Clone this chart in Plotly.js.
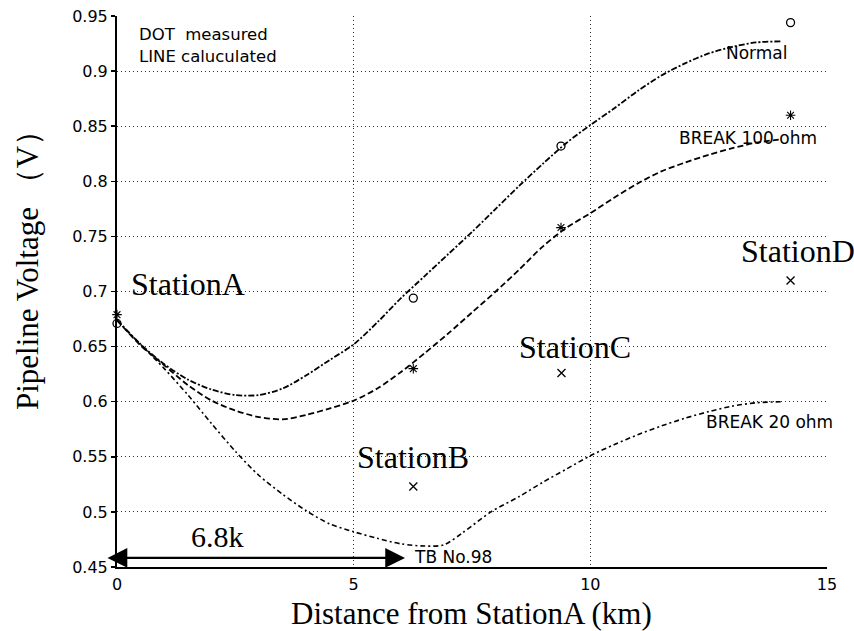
<!DOCTYPE html>
<html>
<head>
<meta charset="utf-8">
<script src="https://cdn.plot.ly/plotly-3.0.1.min.js"></script>
<style>html,body{margin:0;padding:0;background:#fff;}#chart{width:854px;height:631px;}</style>
</head>
<body>
<div id="chart"></div>
<script>
// ---- data ----
const xTickVals = [0, 5, 10, 15];
const xTickText = ['0', '5', '10', '15'];
const yTickVals = [0.45, 0.5, 0.55, 0.6, 0.65, 0.7, 0.75, 0.8, 0.85, 0.9, 0.95];
const yTickText = ['0.45', '0.5', '0.55', '0.6', '0.65', '0.7', '0.75', '0.8', '0.85', '0.9', '0.95'];

// calculated lines
const normalX = [0, 0.5, 1, 1.5, 2, 2.5, 3, 3.5, 4, 4.5, 5, 5.5, 6, 6.5, 7, 7.5, 8, 8.5, 9, 9.5, 10, 10.5, 11, 11.5, 12, 12.5, 13, 13.5, 14.05];
const normalY = [0.674, 0.652, 0.634, 0.620, 0.611, 0.606, 0.606, 0.612, 0.624, 0.638, 0.652, 0.672, 0.694, 0.714, 0.734, 0.754, 0.775, 0.796, 0.816, 0.835, 0.851, 0.866, 0.882, 0.896, 0.907, 0.916, 0.922, 0.926, 0.927];

const break100X = [0, 0.5, 1, 1.5, 2, 2.5, 3, 3.5, 4, 4.5, 5, 5.5, 6, 6.5, 7, 7.5, 8, 8.5, 9, 9.5, 10, 10.5, 11, 11.5, 12, 12.5, 13, 13.5, 14.0];
const break100Y = [0.674, 0.651, 0.633, 0.615, 0.601, 0.592, 0.586, 0.584, 0.588, 0.594, 0.601, 0.612, 0.627, 0.644, 0.662, 0.681, 0.700, 0.720, 0.741, 0.758, 0.771, 0.785, 0.798, 0.809, 0.817, 0.824, 0.830, 0.835, 0.838];

const break20X = [0, 0.5, 1, 1.5, 2, 2.5, 3, 3.5, 4, 4.5, 5, 5.5, 6, 6.5, 6.9, 7.3, 7.9, 8.5, 9, 9.5, 10, 10.5, 11, 11.5, 12, 12.5, 13, 13.5, 14.07];
const break20Y = [0.674, 0.652, 0.630, 0.606, 0.580, 0.555, 0.533, 0.516, 0.501, 0.489, 0.482, 0.476, 0.471, 0.469, 0.470, 0.481, 0.500, 0.514, 0.527, 0.539, 0.551, 0.561, 0.570, 0.578, 0.585, 0.591, 0.596, 0.599, 0.600];

// measured dots
const measNormalX = [0, 6.26, 9.38, 14.23];
const measNormalY = [0.671, 0.694, 0.832, 0.944];
const measBreak100X = [0, 6.26, 9.38, 14.23];
const measBreak100Y = [0.679, 0.630, 0.758, 0.860];
const measStationX = [6.26, 9.39, 14.23];
const measStationY = [0.523, 0.626, 0.710];

// texts
const stationNames = ['StationA', 'StationB', 'StationC', 'StationD'];
const curveNames = ['Normal', 'BREAK 100 ohm', 'BREAK 20 ohm'];
const noteLines = ['DOT  measured', 'LINE caluculated'];
const tbLabel = 'TB No.98';
const distLabel = '6.8k';
const xTitle = 'Distance from StationA (km)';
const yTitle = 'Pipeline Voltage （V）';
const figLabel = 'Fig. 5';

// ---- drawing ----
const SANS = 'DejaVu Sans';
const SERIF = 'Liberation Serif, Times New Roman, serif';
const lineCommon = {mode: 'lines', hoverinfo: 'skip', showlegend: false, line: {shape: 'spline', smoothing: 0.8, color: '#000', width: 1.8}};

const traces = [
  Object.assign({}, lineCommon, {x: normalX, y: normalY, name: curveNames[0], line: Object.assign({}, lineCommon.line, {dash: '6px,2px,2px,2px'})}),
  Object.assign({}, lineCommon, {x: break100X, y: break100Y, name: curveNames[1], line: Object.assign({}, lineCommon.line, {dash: '6px,3px'})}),
  Object.assign({}, lineCommon, {x: break20X, y: break20Y, name: curveNames[2], line: Object.assign({}, lineCommon.line, {dash: '5px,3px,2px,3px', width: 1.6})}),
  {x: measNormalX, y: measNormalY, mode: 'markers', showlegend: false, cliponaxis: false,
   marker: {symbol: 'circle-open', size: 8, color: '#000', line: {width: 1.3, color: '#000'}}},
  {x: measBreak100X, y: measBreak100Y, mode: 'markers', showlegend: false, cliponaxis: false,
   marker: {symbol: 'asterisk-open', size: 8, color: '#000', line: {width: 1.1, color: '#000'}}},
  {x: measStationX, y: measStationY, mode: 'markers', showlegend: false, cliponaxis: false,
   marker: {symbol: 'x-thin-open', size: 8, color: '#000', line: {width: 1.3, color: '#000'}}}
];

function txt(text, x, y, size, family, xanchor) {
  return {text: text, x: x, y: y, xref: 'x', yref: 'y', showarrow: false,
          xanchor: xanchor || 'center', yanchor: 'middle',
          font: {family: family, size: size, color: '#000'}};
}

const annotations = [
  txt(noteLines[0], 0.42, 0.9332, 16.5, SANS, 'left'),
  txt(noteLines[1], 0.42, 0.9137, 16.5, SANS, 'left'),
  txt(curveNames[0], 12.83, 0.9164, 17, SANS, 'left'),
  txt(curveNames[1], 11.83, 0.8393, 17, SANS, 'left'),
  txt(curveNames[2], 12.40, 0.5816, 17, SANS, 'left'),
  txt(tbLabel, 6.23, 0.4591, 17, SANS, 'left'),
  txt(stationNames[0], 1.49, 0.7064, 32, SERIF),
  txt(stationNames[1], 6.25, 0.5494, 32, SERIF),
  txt(stationNames[2], 9.68, 0.6499, 32, SERIF),
  txt(stationNames[3], 14.39, 0.7372, 32, SERIF),
  txt(distLabel, 2.12, 0.4781, 30, SERIF),
  {text: '', x: 6.085, y: 0.4582, ax: -0.232, ay: 0.4582, xref: 'x', yref: 'y', axref: 'x', ayref: 'y',
   showarrow: true, arrowhead: 2, arrowside: 'end+start', arrowsize: 1.8, arrowwidth: 2.2, arrowcolor: '#000', standoff: 0, startstandoff: 0},
  {text: xTitle, x: 0.4995, y: -0.0835, xref: 'paper', yref: 'paper', showarrow: false,
   xanchor: 'center', yanchor: 'middle', font: {family: SERIF, size: 31, color: '#000'}},
  {text: yTitle, x: -0.126, y: 0.5527, xref: 'paper', yref: 'paper', showarrow: false, textangle: -90,
   xanchor: 'center', yanchor: 'middle', font: {family: SERIF, size: 31, color: '#000'}},
  {text: figLabel, x: 1.01, y: -0.1, xref: 'x', yref: 'paper', showarrow: false,
   xanchor: 'left', yanchor: 'top', font: {family: SERIF, size: 30, color: '#000'}}
];

const axisCommon = {showgrid: true, gridcolor: '#333', gridwidth: 1, griddash: '1px,3px', zeroline: false,
  showline: true, linecolor: '#000', linewidth: 2, tickfont: {family: SANS, size: 16, color: '#000'}, fixedrange: true};

const layout = {
  width: 854, height: 631,
  margin: {l: 117, r: 27, t: 16, b: 64, pad: 0},
  paper_bgcolor: '#fff', plot_bgcolor: '#fff',
  showlegend: false,
  xaxis: Object.assign({}, axisCommon, {range: [0, 15], tickmode: 'array', tickvals: xTickVals, ticktext: xTickText, ticks: '', ticklabelstandoff: 2}),
  yaxis: Object.assign({}, axisCommon, {range: [0.45, 0.95], tickmode: 'array', tickvals: yTickVals, ticktext: yTickText,
    ticks: 'outside', ticklen: 4, tickwidth: 1.5, tickcolor: '#000'}),
  annotations: annotations
};

Plotly.newPlot('chart', traces, layout, {staticPlot: true, displayModeBar: false});
</script>
</body>
</html>
